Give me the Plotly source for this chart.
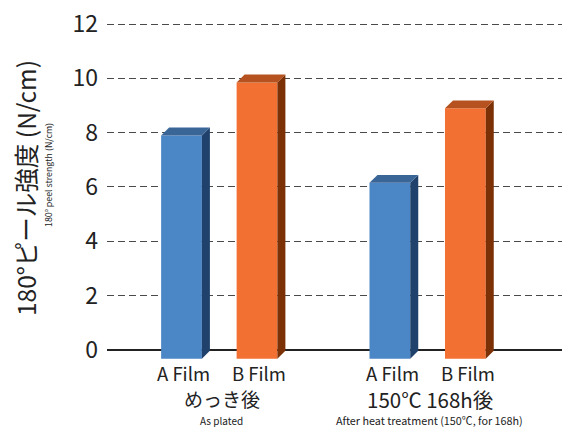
import plotly.graph_objects as go

# ---- data ----
groups = ["めっき後", "150℃ 168h後"]
group_sub = ["As plated", "After heat treatment (150℃, for 168h)"]
films = ["A Film", "B Film"]
values = {
    "A Film": [7.9, 6.15],
    "B Film": [9.85, 8.9],
}
y_ticks = [0, 2, 4, 6, 8, 10, 12]

# ---- style ----
front = {"A Film": "#4B86C6", "B Film": "#F37033"}
top_c = {"A Film": "#3A6597", "B Film": "#B5521F"}
side_c = {"A Film": "#1F416B", "B Film": "#7C3006"}
FONT = "Noto Sans CJK JP, Noto Sans, sans-serif"
TXT = "#222222"
group_font_size = [19, 20.5]
group_sub_size = [10, 10.8]

BASE = -0.33        # bars start slightly below the zero line
BAR_W = 0.54        # front face width (category units)
DX = 0.106          # 3D depth in x (category units)
DY = 0.29           # 3D depth in y (value units)
GROUP_STEP = 2.76   # distance between groups (category units)

W, H = 562, 427
ML, MR, MT, MB = 107, 0, 16, 61
Y_RANGE = [-0.6, 12.3]
X_RANGE = [-0.987, 5.04]

fig = go.Figure()

for fi, f in enumerate(films):
    xs = [g * GROUP_STEP + fi for g in range(len(groups))]
    vals = values[f]
    fig.add_trace(go.Bar(
        x=xs, y=[v - BASE for v in vals], base=BASE, width=BAR_W,
        marker=dict(color=front[f], line=dict(width=0)),
        hoverinfo="skip", showlegend=False,
    ))
    for x, v in zip(xs, vals):
        xl, xr = x - BAR_W / 2, x + BAR_W / 2
        # side face
        fig.add_trace(go.Scatter(
            x=[xr, xr + DX, xr + DX, xr, xr],
            y=[BASE, BASE + DY, v + DY, v, BASE],
            fill="toself", fillcolor=side_c[f], mode="lines",
            line=dict(width=0, color=side_c[f]), hoverinfo="skip", showlegend=False,
        ))
        # top face
        fig.add_trace(go.Scatter(
            x=[xl, xl + DX, xr + DX, xr, xl],
            y=[v, v + DY, v + DY, v, v],
            fill="toself", fillcolor=top_c[f], mode="lines",
            line=dict(width=0, color=top_c[f]), hoverinfo="skip", showlegend=False,
        ))

plot_h = H - MT - MB

def below(px):
    """yshift (px) relative to the bottom of the plot area for a label centred at page y=px"""
    return -(px - (H - MB))

annotations = []
# category labels
for g in range(len(groups)):
    for fi, f in enumerate(films):
        annotations.append(dict(
            x=g * GROUP_STEP + fi + 0.03, y=0, xref="x", yref="paper",
            text=f, showarrow=False, yanchor="middle", yshift=below(373),
            font=dict(family=FONT, size=18.5, color=TXT),
        ))
    cx = g * GROUP_STEP + 0.5 + 0.03
    annotations.append(dict(
        x=cx, y=0, xref="x", yref="paper", text=groups[g], showarrow=False,
        yanchor="middle", yshift=below(398.5), font=dict(family=FONT, size=group_font_size[g], color=TXT),
    ))
    annotations.append(dict(
        x=cx, y=0, xref="x", yref="paper", text=group_sub[g], showarrow=False,
        yanchor="middle", yshift=below(420), font=dict(family=FONT, size=group_sub_size[g], color=TXT),
    ))

# y axis titles
annotations.append(dict(
    x=0, y=0.5, xref="paper", yref="paper", xanchor="center", yanchor="middle",
    xshift=25 - ML, yshift=-((188 - MT) - plot_h / 2),
    text="180°ピール強度 (N/cm)", textangle=-90, showarrow=False,
    font=dict(family=FONT, size=24.5, color=TXT),
))
annotations.append(dict(
    x=0, y=0.5, xref="paper", yref="paper", xanchor="center", yanchor="middle",
    xshift=48 - ML, yshift=-((175 - MT) - plot_h / 2),
    text="180° peel strength (N/cm)", textangle=-90, showarrow=False,
    font=dict(family=FONT, size=8.8, color=TXT),
))

fig.update_layout(
    width=W, height=H, margin=dict(l=ML, r=MR, t=MT, b=MB, pad=0),
    paper_bgcolor="white", plot_bgcolor="white",
    barmode="overlay", annotations=annotations,
    xaxis=dict(range=X_RANGE, showgrid=False, zeroline=False, showticklabels=False,
               showline=False, fixedrange=True),
    yaxis=dict(range=Y_RANGE, tickvals=y_ticks, ticktext=[str(t) for t in y_ticks],
               showgrid=True, gridcolor="#4a4a4a", gridwidth=1, griddash="7px,4px",
               zeroline=True, zerolinecolor="#222222", zerolinewidth=1.6,
               showline=False, ticks="", ticklabelstandoff=8,
               tickfont=dict(family=FONT, size=23, color=TXT)),
)

fig.write_html("out.html")
